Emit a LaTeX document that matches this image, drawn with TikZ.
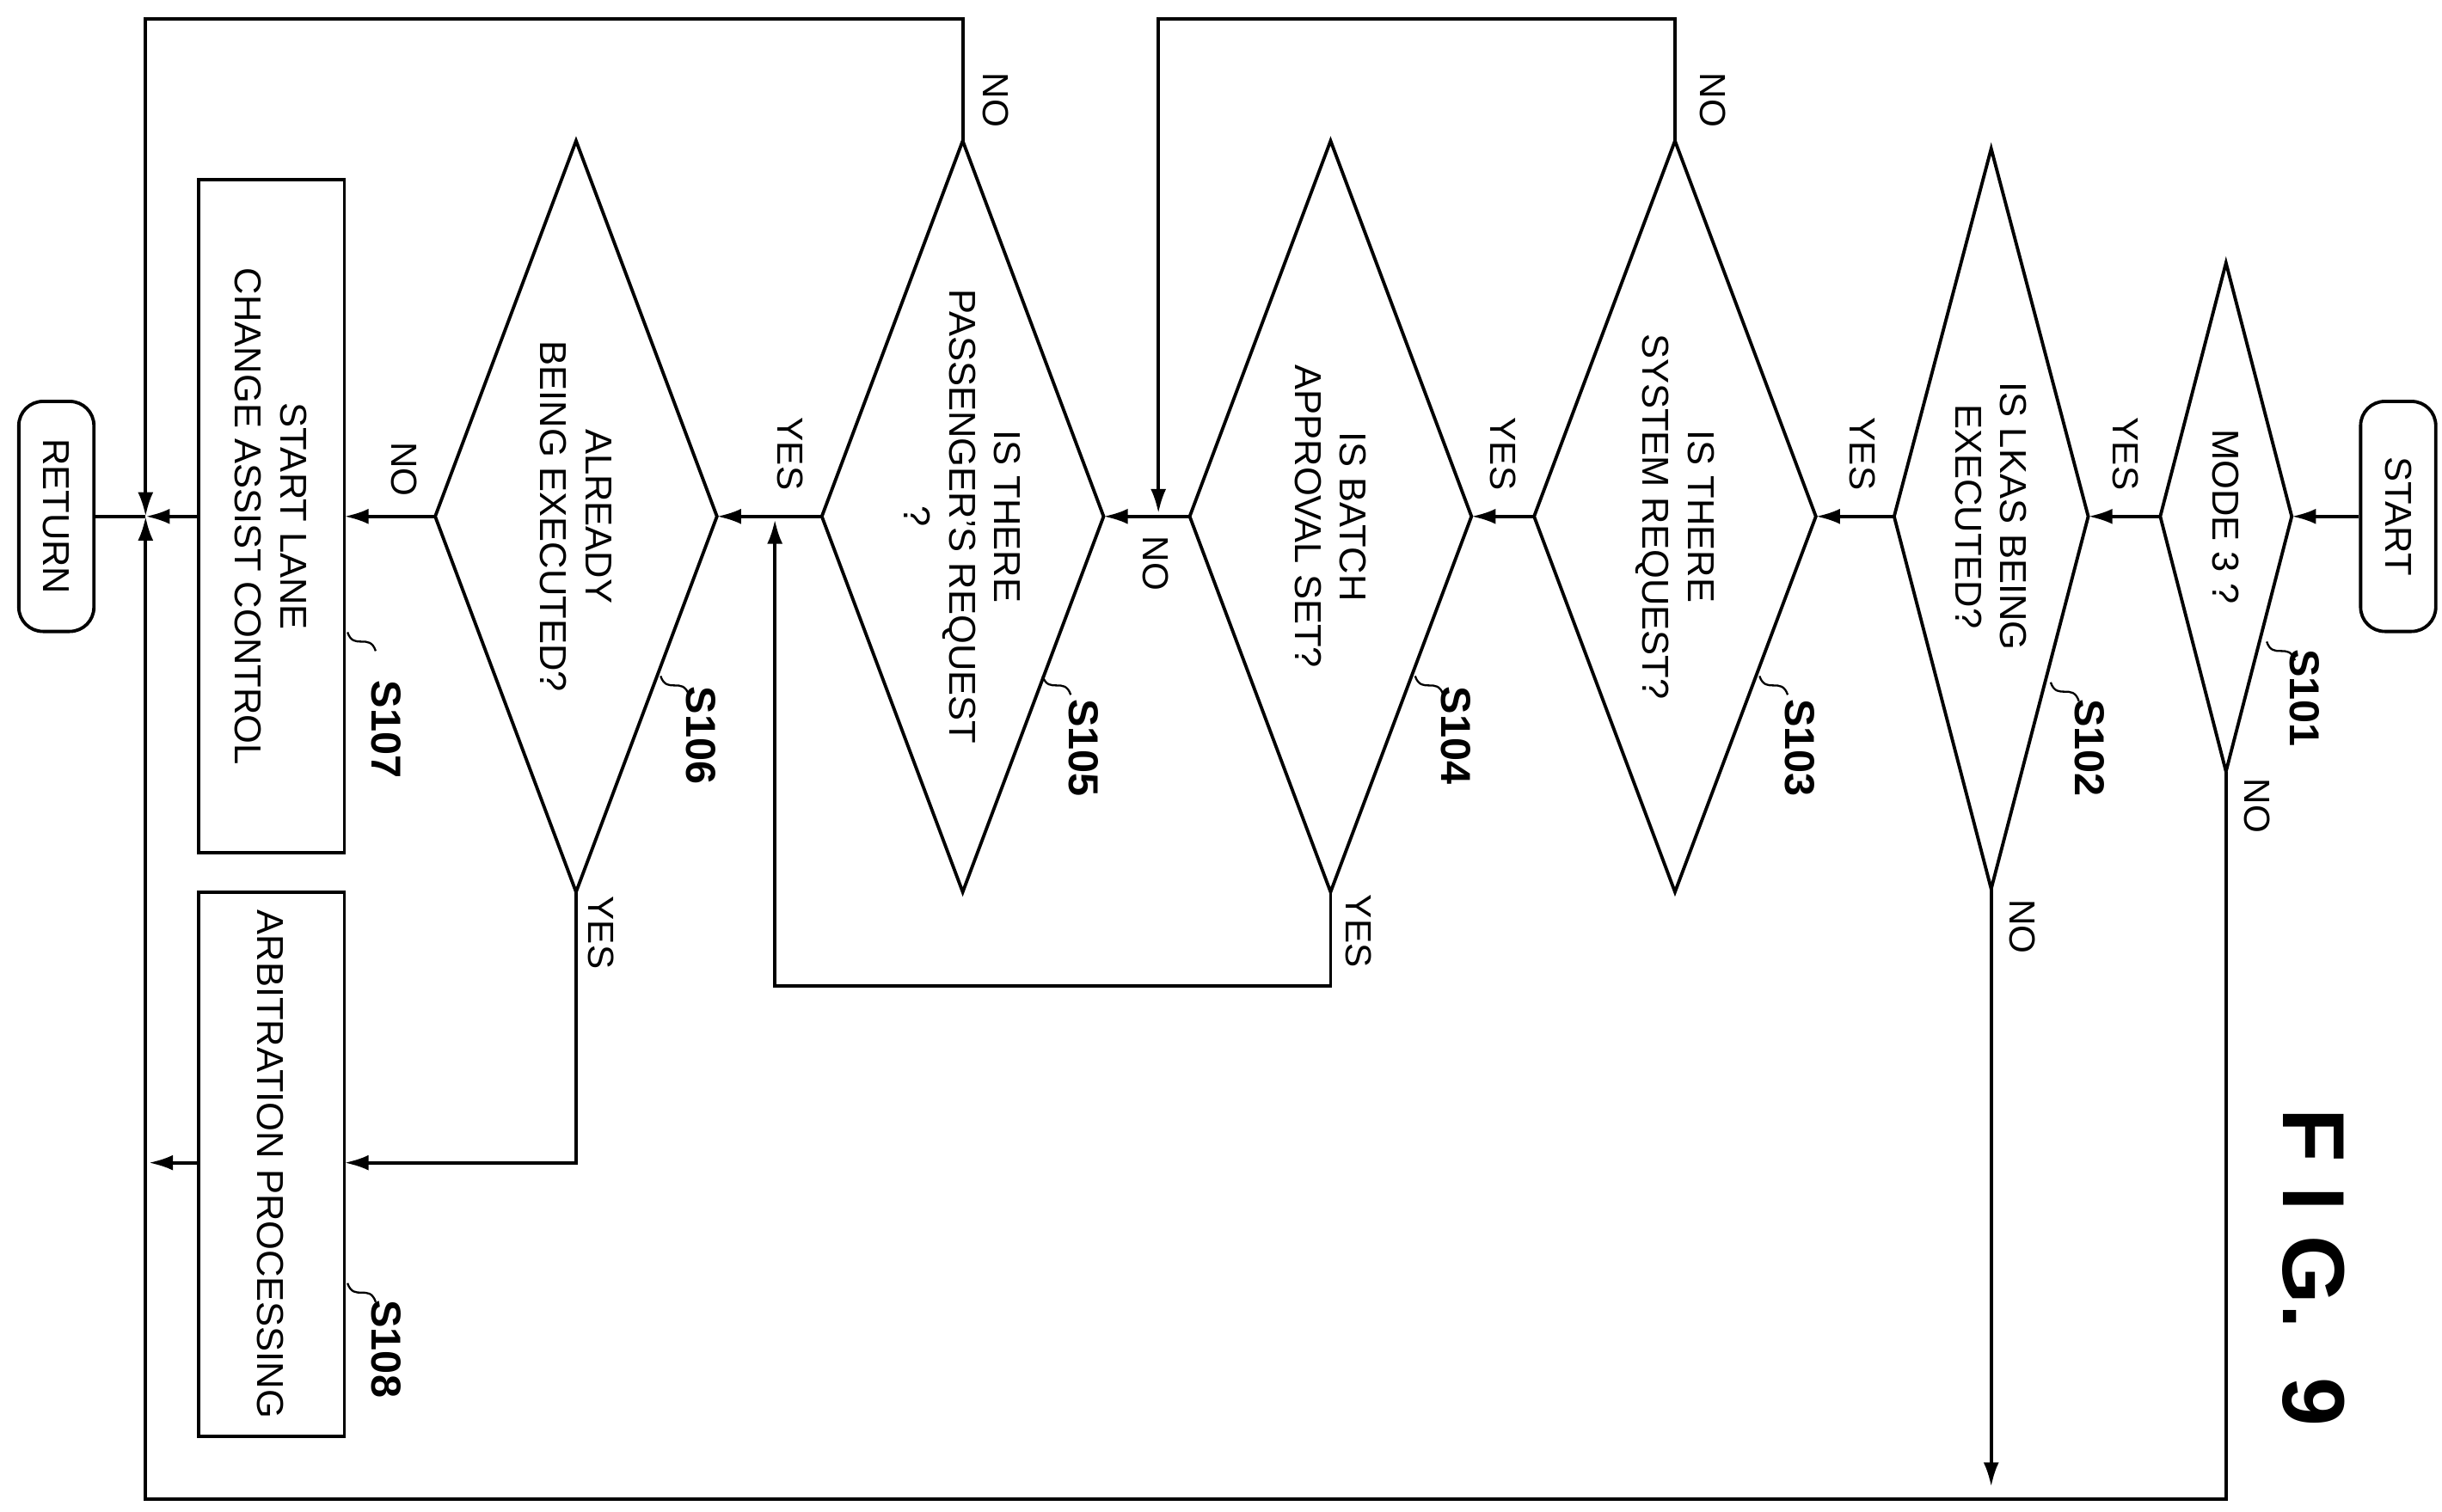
\documentclass[tikz,border=0pt]{standalone}
\usepackage{fontspec}
\setmainfont{Liberation Sans}
\usetikzlibrary{arrows.meta}
\begin{document}
\begin{tikzpicture}[x=0.05cm,y=-0.05cm,line width=3pt,
  txt/.style={rotate=-90,align=center,font=\fontsize{34}{41}\selectfont,inner sep=0pt},
  lab/.style={rotate=-90,font=\fontsize{33}{40}\selectfont,inner sep=0pt},
  sl/.style={rotate=-90,font=\bfseries\fontsize{38}{44}\selectfont,inner sep=0pt},
  arr/.style={-{Latex[length=22pt,width=14pt]}},
  sq/.style={line width=1.8pt},
  term/.style={draw,rounded corners=22pt,minimum width=7.35cm,minimum height=2.4cm,rotate=-90,inner sep=0pt,font=\fontsize{34}{41}\selectfont}]
\useasboundingbox (0,0) rectangle (1560,966);
\newcommand\dia[6]{% name, cx, hw, top y, bottom y, text
  \coordinate (#1L) at ({#2-#3},330); \coordinate (#1R) at ({#2+#3},330);
  \coordinate (#1T) at (#2,#4); \coordinate (#1B) at (#2,#5);
  \draw (#1L)--(#1T)--(#1R)--(#1B)--cycle;
  \node[txt] (#1) at (#2,330) {#6};}
\node[term] (start) at (1532,330) {START};
\node[term] (ret) at (36,330) {RETURN};
\dia{a}{1422}{42}{168}{493}{MODE 3 ?}
\dia{b}{1272}{62}{95}{568}{IS LKAS BEING\\EXECUTED?}
\dia{c}{1070}{90}{90}{570}{IS THERE\\SYSTEM REQUEST?}
\dia{d}{850}{90}{90}{570}{IS BATCH\\APPROVAL SET?}
\dia{e}{615}{90}{90}{570}{IS THERE\\PASSENGER'S REQUEST\\?}
\dia{f}{368}{90}{90}{570}{ALREADY\\BEING EXECUTED?}
\draw (127,115) rectangle (220,545); \node[txt] (g) at (173,330) {START LANE\\CHANGE ASSIST CONTROL};
\draw (127,570) rectangle (220,918); \node[txt] (h) at (173,744) {ARBITRATION PROCESSING};
\coordinate (gR) at (220,330); \coordinate (gL) at (127,330);
\coordinate (hR) at (220,743); \coordinate (hL) at (127,743);
\coordinate (j) at (93,330);
% connectors
\draw[arr] (start.south) -- (aR);
\draw[arr] (aL) -- (bR); \node[lab] at (1358,290) {YES};
\draw[arr] (aB) -- (1422,958) -- (93,958) -- (j); \node[lab] at (1442,515) {NO};
\draw[arr] (bL) -- (cR); \node[lab] at (1190,290) {YES};
\draw[arr] (bB) -- (1272,950); \node[lab] at (1292,592) {NO};
\draw[arr] (cL) -- (dR); \node[lab] at (960,290) {YES};
\draw[arr] (cT) -- (1070,12) -- (740,12) -- (740,328); \node[lab] at (1094,64) {NO};
\draw[arr] (dL) -- (eR); \node[lab] at (738,360) {NO};
\draw[arr] (dB) -- (850,630) -- (495,630) -- (495,332); \node[lab] at (868,595) {YES};
\draw[arr] (eL) -- (fR); \node[lab] at (505,290) {YES};
\draw[arr] (eT) -- (615,12) -- (93,12) -- (j); \node[lab] at (636,64) {NO};
\draw[arr] (fL) -- (gR); \node[lab] at (258,300) {NO};
\draw[arr] (fB) -- (368,743) -- (hR); \node[lab] at (384,596) {YES};
\draw[arr] (gL) -- (j);
\draw[arr] (hL) -- (95,743);
\draw (j) -- (ret.north);
% step labels
\node[sl] at (1472,446) {S101}; \draw[sq] (1448,410) .. controls (1452,422) and (1462,410) .. (1466,422);
\node[sl] at (1335,478) {S102}; \draw[sq] (1310,436) .. controls (1314,448) and (1324,436) .. (1328,448);
\node[sl] at (1150,478) {S103}; \draw[sq] (1124,432) .. controls (1128,444) and (1138,432) .. (1142,444);
\node[sl] at (930,470) {S104}; \draw[sq] (904,432) .. controls (908,444) and (918,432) .. (922,444);
\node[sl] at (692,478) {S105}; \draw[sq] (666,432) .. controls (670,444) and (680,432) .. (684,444);
\node[sl] at (448,470) {S106}; \draw[sq] (422,432) .. controls (426,444) and (436,432) .. (440,444);
\node[sl] at (247,466) {S107}; \draw[sq] (222,404) .. controls (226,416) and (236,404) .. (240,416);
\node[sl] at (247,862) {S108}; \draw[sq] (222,820) .. controls (226,832) and (236,820) .. (240,832);
\node[rotate=-90,font=\bfseries\fontsize{80}{90}\selectfont] at (1478,810) {F I G.\ \ 9};
\end{tikzpicture}
\end{document}
